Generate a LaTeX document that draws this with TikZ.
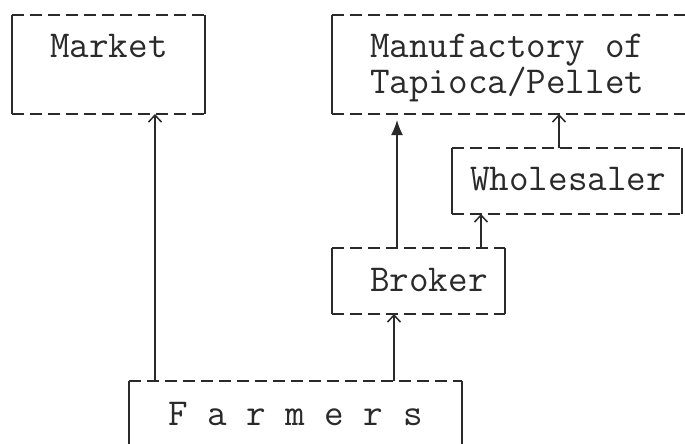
\documentclass[tikz,border=0pt]{standalone}
\usetikzlibrary{arrows.meta}
\definecolor{ink}{HTML}{2A2A2A}
\tikzset{
  box/.style={rectangle, inner sep=0pt, outer sep=0pt},
  side/.style={draw=ink, line width=1.6pt},
  hdash/.style={draw=ink, line width=1.6pt, dash pattern=on 12pt off 6pt},
  lbl/.style={inner sep=0pt, anchor=base west, text=ink, font=\fontsize{38}{33}\selectfont\ttfamily},
  arr/.style={draw=ink, line width=1.5pt, -{Straight Barb[length=7pt,width=13pt,line width=1.5pt]}},
  arrf/.style={draw=ink, line width=1.5pt, -{Latex[length=15pt,width=12pt]}},
}
\newcommand\boxedges[1]{%
  \draw[side] (#1.north west) -- (#1.south west) (#1.north east) -- (#1.south east);
  \draw[hdash] (#1.north west) -- (#1.north east) (#1.south west) -- (#1.south east);}
\begin{document}
\begin{tikzpicture}[x=1pt,y=-1pt]
\useasboundingbox (0,0) rectangle (685,444);
\fill[white] (0,0) rectangle (685,444);
% boxes
\node[box, minimum width=193pt, minimum height=99pt] (mk) at (108.5,64.5) {};
\node[box, minimum width=360pt, minimum height=99pt] (mf) at (512,64.5) {};
\node[box, minimum width=230pt, minimum height=66pt] (wh) at (567,181) {};
\node[box, minimum width=173pt, minimum height=66pt] (br) at (418.5,281) {};
\node[box, minimum width=333pt, minimum height=68pt] (fa) at (295.5,415) {};
\boxedges{mk}
\boxedges{mf}
\boxedges{wh}
\boxedges{br}
\boxedges{fa}
% labels
\node[lbl] (tmk) at (50,58) {Market};
\node[lbl] (tmf) at (370,57) {\begin{tabular}[t]{@{}l@{}}Manufactory of\\Tapioca/Pellet\end{tabular}};
\node[lbl] (twh) at (470,190) {Wholesaler};
\node[lbl] (tbr) at (370,291) {Broker};
\node[lbl] (tfa) at (168,425) {F a r m e r s};
% arrow columns
\coordinate (c1) at (155,0);
\coordinate (c2) at (397,0);
\coordinate (c3) at (559,0);
\coordinate (c4) at (481,0);
\coordinate (c5) at (394,0);
\coordinate (mfgap) at (0,120);
\draw[arr] (c1 |- fa.north) -- (c1 |- mk.south);
\draw[arrf] (c2 |- br.north) -- (c2 |- mfgap);
\draw[arr] (c3 |- wh.north) -- (c3 |- mf.south);
\draw[arr] (c4 |- br.north) -- (c4 |- wh.south);
\draw[arr] (c5 |- fa.north) -- (c5 |- br.south);
\end{tikzpicture}
\end{document}
